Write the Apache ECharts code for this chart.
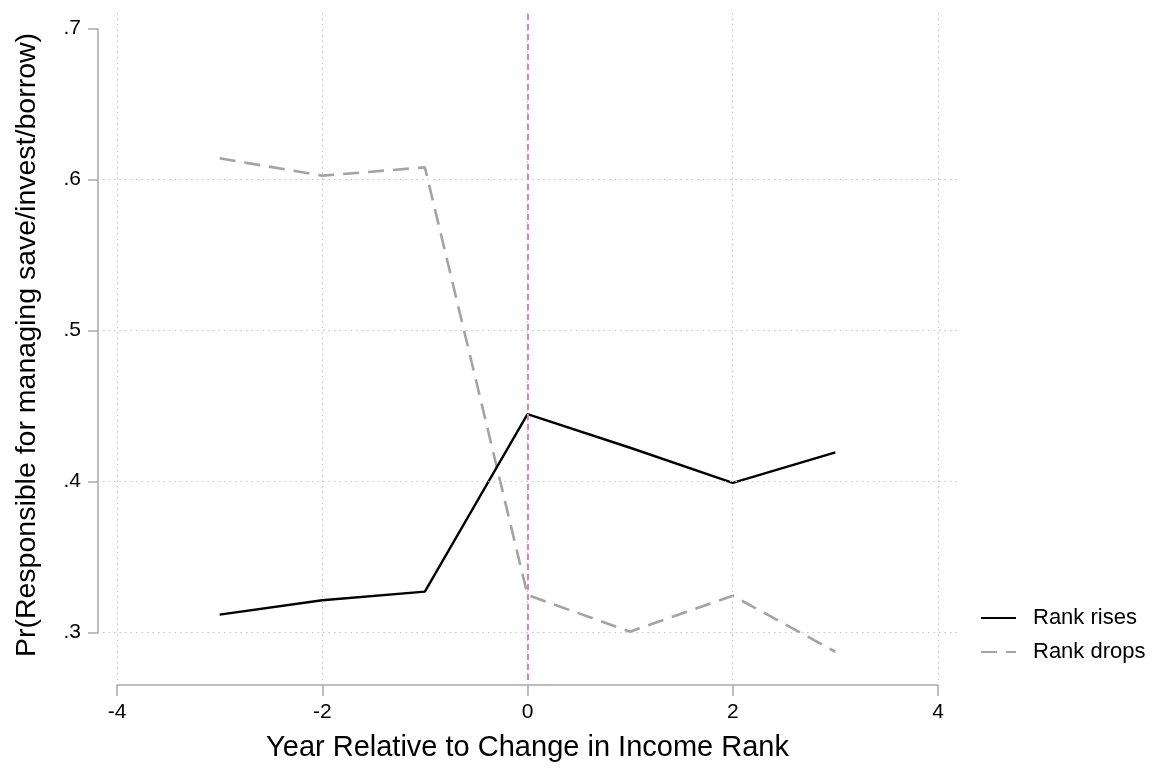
<!DOCTYPE html>
<html>
<head>
<meta charset="utf-8">
<title>Rank change</title>
<script src="https://cdn.jsdelivr.net/npm/echarts@6.0.0/dist/echarts.min.js"></script>
<style>
  html, body { margin: 0; padding: 0; background: #fff; }
  #chart { width: 1155px; height: 772px; }
</style>
</head>
<body>
<div id="chart"></div>
<script>
// data
const years = [-3, -2, -1, 0, 1, 2, 3]
const rankRises = [0.312, 0.3215, 0.3272, 0.4448, 0.4225, 0.3993, 0.4195]
const rankDrops = [0.6142, 0.6027, 0.6082, 0.325, 0.3007, 0.3245, 0.2874]
const xTicks = [-4, -2, 0, 2, 4]
const yTicks = [0.3, 0.4, 0.5, 0.6, 0.7]
const yGridLines = [0.3, 0.4, 0.5, 0.6]
const eventYear = 0

const font = 'Liberation Sans, Helvetica, Arial, sans-serif'
const axisGray = '#a9a9a9'
const gridGray = '#c4c4c4'

// plot region is a bit wider than the tick range (Stata style)
const plotX = [-4.1364, 4.1949]
const plotY = [0.2687, 0.7124]

const pairs = vals => years.map((x, i) => [x, vals[i]])

const chart = echarts.init(document.getElementById('chart'))

const gridMarks = xTicks.map(v => ({ xAxis: v }))
    .concat(yGridLines.map(v => ({ yAxis: v })))

const options = {
    animation: false,
    backgroundColor: '#fff',
    textStyle: { fontFamily: font },
    grid: [
        // 0: plot region (data + gridlines)
        { left: 103, right: 197, top: 10, bottom: 92 },
        // 1: x axis
        { left: 117, right: 217, top: 10, bottom: 87 },
        // 2: y axis
        { left: 98, width: 20, top: 28.7, bottom: 139.3 }
    ],
    xAxis: [
        { gridIndex: 0, type: 'value', min: plotX[0], max: plotX[1], show: false },
        {
            gridIndex: 1, type: 'value', min: xTicks[0], max: xTicks[xTicks.length - 1], interval: 2,
            axisLine: { show: true, lineStyle: { color: axisGray, width: 1.5 } },
            axisTick: { show: true, length: 11, lineStyle: { color: axisGray, width: 1.5 } },
            axisLabel: { color: '#000', fontSize: 21, margin: 17, fontFamily: font },
            splitLine: { show: false },
            name: 'Year Relative to Change in Income Rank',
            nameLocation: 'middle',
            nameGap: 48,
            nameTextStyle: { color: '#000', fontSize: 29, fontFamily: font }
        },
        { gridIndex: 2, type: 'value', show: false }
    ],
    yAxis: [
        {
            gridIndex: 0, type: 'value', min: plotY[0], max: plotY[1],
            axisLine: { show: false }, axisTick: { show: false },
            axisLabel: { show: false }, splitLine: { show: false },
            name: 'Pr(Responsible for managing save/invest/borrow)',
            nameLocation: 'middle',
            nameGap: 61,
            nameTextStyle: { color: '#000', fontSize: 28.5, fontFamily: font }
        },
        { gridIndex: 1, type: 'value', show: false },
        {
            gridIndex: 2, type: 'value', min: yTicks[0], max: yTicks[yTicks.length - 1], interval: 0.1,
            axisLine: { show: true, lineStyle: { color: axisGray, width: 1.5 } },
            axisTick: { show: true, length: 10, lineStyle: { color: axisGray, width: 1.5 } },
            axisLabel: {
                color: '#000', fontSize: 21, margin: 17, fontFamily: font,
                formatter: v => v.toFixed(1).replace(/^0/, '')
            },
            splitLine: { show: false }
        }
    ],
    legend: {
        orient: 'vertical',
        left: 975,
        top: 602,
        itemWidth: 35,
        itemHeight: 12,
        itemGap: 12,
        data: ['Rank rises', 'Rank drops'],
        itemStyle: { color: 'transparent', borderColor: 'transparent', borderWidth: 0 },
        textStyle: { color: '#000', fontSize: 22, fontFamily: font, padding: [0, 0, 0, 12] }
    },
    series: [
        {
            // gridlines + event line
            name: 'grid',
            type: 'line',
            xAxisIndex: 0,
            yAxisIndex: 0,
            data: [],
            z: 1,
            silent: true,
            markLine: {
                silent: true,
                symbol: 'none',
                label: { show: false },
                lineStyle: { color: gridGray, type: [1.5, 4], width: 1.2 },
                data: gridMarks.concat([
                    { xAxis: eventYear, lineStyle: { color: '#e67dbf', type: [6, 4], width: 2 } }
                ])
            }
        },
        {
            name: 'Rank rises',
            type: 'line',
            xAxisIndex: 0,
            yAxisIndex: 0,
            data: pairs(rankRises),
            symbol: 'none',
            z: 3,
            lineStyle: { color: '#000', width: 2.4 },
            itemStyle: { color: '#000' }
        },
        {
            name: 'Rank drops',
            type: 'line',
            xAxisIndex: 0,
            yAxisIndex: 0,
            data: pairs(rankDrops),
            symbol: 'none',
            z: 2,
            lineStyle: { color: '#a3a3a3', width: 2.6, type: [16, 9] },
            itemStyle: { color: '#a3a3a3' }
        }
    ]
}

options && chart.setOption(options)
</script>
</body>
</html>
